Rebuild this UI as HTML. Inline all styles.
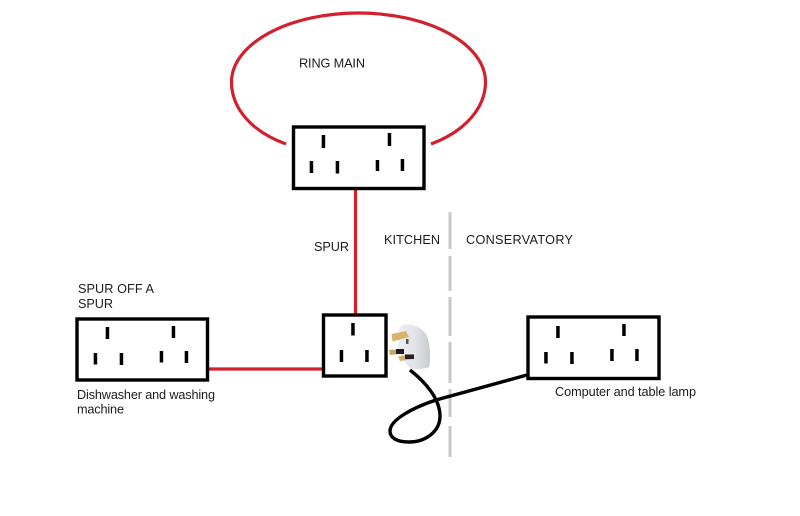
<!DOCTYPE html>
<html><head><meta charset="utf-8"><style>
html,body{margin:0;padding:0;background:#fff;width:800px;height:516px;overflow:hidden}
svg{display:block}
text{font-family:"Liberation Sans",Arial,sans-serif;font-size:12.700px;fill:#1c1c1c}
</style></head><body>
<svg width="800" height="516" viewBox="0 0 800 516">
<defs>
<linearGradient id="pl" x1="0" x2="1" y1="0" y2="0"><stop offset="0" stop-color="#eeeef2"/><stop offset=".55" stop-color="#e2e3e8"/><stop offset="1" stop-color="#c8cad0"/></linearGradient>
</defs>
<!-- ring -->
<path d="M286 144 C250 131 231.500 107 231.500 82 A127 69 0 0 1 485.500 82 C485.500 107 466 131 431 144" fill="none" stroke="#d2202e" stroke-width="3.200"/>
<!-- red -->
<path d="M355.500 189V314" stroke="#d2202e" stroke-width="3.200" fill="none"/>
<path d="M208 369H323" stroke="#d2202e" stroke-width="3.200" fill="none"/>
<!-- divider -->
<path d="M450 212V249M450 256V291M450 297V336M450 342V383M450 389V417M450 426V457" stroke="#c8c8c8" stroke-width="3" fill="none"/>
<!-- sockets -->
<g fill="none" stroke="#000" stroke-width="3.400">
<rect x="293.500" y="127" width="130.500" height="61.500"/>
<rect x="77" y="319" width="130.500" height="61"/>
<rect x="323.500" y="315" width="62.500" height="61"/>
<rect x="528" y="317" width="131" height="61.500"/>
</g>
<g fill="#000">
<rect x="321.700" y="135" width="3.500" height="13"/><rect x="387.700" y="133" width="3.500" height="13"/><rect x="309.700" y="161" width="3.500" height="12"/><rect x="335.700" y="161" width="3.500" height="12.500"/><rect x="375.700" y="160" width="3.500" height="11"/><rect x="400.700" y="159" width="3.500" height="12"/>
<rect x="105.700" y="327" width="3.500" height="12"/><rect x="171.700" y="326" width="3.500" height="12"/><rect x="93.700" y="353" width="3.500" height="11.500"/><rect x="119.700" y="353" width="3.500" height="12"/><rect x="159.700" y="351" width="3.500" height="11.500"/><rect x="184.700" y="351" width="3.500" height="12"/>
<rect x="351.200" y="323" width="3.500" height="12.500"/><rect x="339.700" y="350" width="3.500" height="12"/><rect x="365.200" y="350" width="3.500" height="12"/>
<rect x="556.200" y="326" width="3.500" height="12"/><rect x="622.200" y="324" width="3.500" height="12"/><rect x="544.200" y="352" width="3.500" height="11.500"/><rect x="570.200" y="352" width="3.500" height="12"/><rect x="610.200" y="349" width="3.500" height="12"/><rect x="635.200" y="349" width="3.500" height="12"/>
</g>
<!-- cable -->
<path d="M410 370 C424 381 440 398 440 416 C440 432 425 442 409 442 C397 442 390 438 390 431 C390 420 412 408 436 400 L527 375" fill="none" stroke="#000" stroke-width="3.400"/>
<!-- plug -->
<path d="M401 326 C408 322 420 326 426 334 C430 341 431 358 429 367 C425 369 415 370 410 368 C405 364 400 356 398 346 C398 338 398 330 401 326Z" fill="url(#pl)"/>
<path d="M391.500 334 L406 331 L409 337 L392.500 341.500Z" fill="#d9b36c"/>
<path d="M389 350 L403 349 L404 353.500 L390 355Z" fill="#c9a565"/><rect x="396" y="349" width="8" height="5" fill="#1c1c1c"/>
<path d="M398 356.500 L412 354 L413 359 L400 361Z" fill="#d2ad6c"/><rect x="405" y="354.500" width="9" height="4.500" fill="#222"/>
<rect x="406" y="339" width="2.500" height="5" fill="#555"/>
<!-- labels -->
<text x="299" y="67.500" textLength="66">RING MAIN</text>
<text x="314" y="251" textLength="35">SPUR</text>
<text x="384" y="244" textLength="56">KITCHEN</text>
<text x="466" y="244" textLength="107">CONSERVATORY</text>
<text x="78" y="293" textLength="76">SPUR OFF A</text>
<text x="78" y="308" textLength="35">SPUR</text>
<text x="77" y="399" textLength="138">Dishwasher and washing</text>
<text x="77" y="413.500" textLength="47">machine</text>
<text x="555" y="396" textLength="141">Computer and table lamp</text>
</svg>
</body></html>
